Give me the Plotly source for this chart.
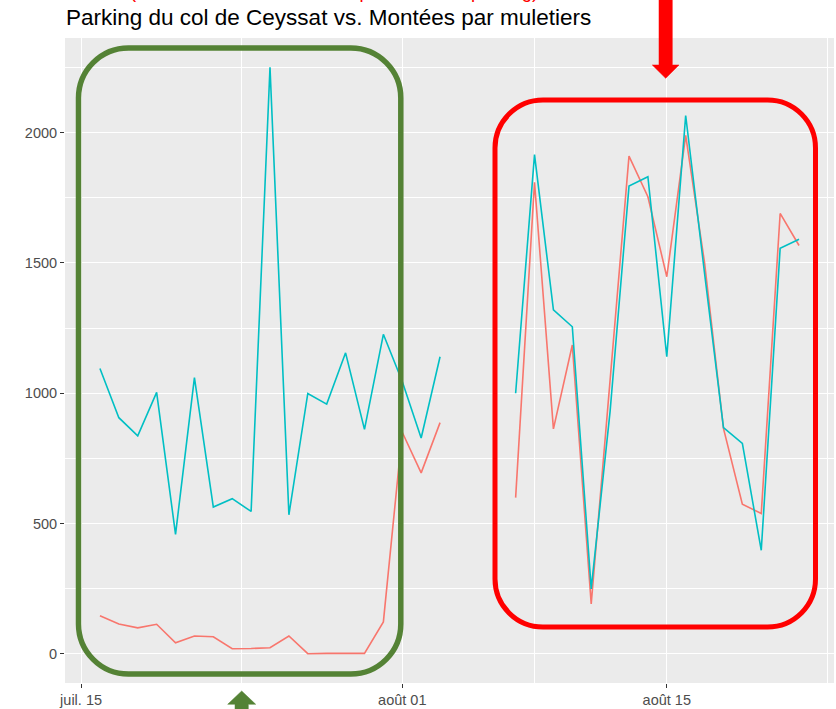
import pandas as pd
import plotly.graph_objects as go

# Daily counts, 16 July – 22 August 2021 (no data 4–6 August)
dates = pd.date_range("2021-07-16", "2021-08-22", freq="D")
montees = [146, 114, 99, 113, 42, 68, 65, 19, 20, 23, 68, 0, 1, 1, 1, 122,
           850, 694, 887, None, None, None, 599, 1810, 863, 1185, 191, 1060,
           1910, 1754, 1447, 1990, 1500, 865, 574, 538, 1690, 1567]
parking = [1095, 906, 836, 1003, 458, 1060, 563, 595, 546, 2251, 533, 999,
           958, 1155, 861, 1226, 1045, 828, 1140, None, None, None, 1000, 1916,
           1320, 1255, 249, 930, 1795, 1831, 1140, 2066, 1460, 868, 807, 397,
           1556, 1591]

x_tickvals = ["2021-07-15", "2021-08-01", "2021-08-15"]
x_ticktext = ["juil. 15", "août 01", "août 15"]
x_minor = ["2021-07-23 12:00", "2021-08-08", "2021-08-23 12:00"]
y_tickvals = [0, 500, 1000, 1500, 2000]
y_minor = [250, 750, 1250, 1750, 2250]

title = "Parking du col de Ceyssat vs. Montées par muletiers"
note = "(Les montées suivent la fréquentation du parking)"

# figure geometry (pixels)
FW, FH = 836, 709
L, R, T, B = 65, 834, 38, 683
PW, PH = R - L, B - T


def paper(px, py):
    return (px - L) / PW, (B - py) / PH


def pt(p):
    return "%.5f,%.5f" % paper(*p)


def rounded_rect(x0, y0, x1, y1, r):
    c = r * (1 - 0.5523)
    segs = [
        "M " + pt((x0 + r, y0)),
        "L " + pt((x1 - r, y0)),
        "C " + " ".join(pt(p) for p in [(x1 - c, y0), (x1, y0 + c), (x1, y0 + r)]),
        "L " + pt((x1, y1 - r)),
        "C " + " ".join(pt(p) for p in [(x1, y1 - c), (x1 - c, y1), (x1 - r, y1)]),
        "L " + pt((x0 + r, y1)),
        "C " + " ".join(pt(p) for p in [(x0 + c, y1), (x0, y1 - c), (x0, y1 - r)]),
        "L " + pt((x0, y0 + r)),
        "C " + " ".join(pt(p) for p in [(x0, y0 + c), (x0 + c, y0), (x0 + r, y0)]),
        "Z",
    ]
    return " ".join(segs)


def polygon(pts):
    segs = ["M " + pt(pts[0])] + ["L " + pt(p) for p in pts[1:]] + ["Z"]
    return " ".join(segs)


# ggplot-like expanded ranges
ymin = min(v for v in montees + parking if v is not None)
ymax = max(v for v in montees + parking if v is not None)
ypad = 0.05 * (ymax - ymin)
xspan = dates[-1] - dates[0]
xrange = [dates[0] - 0.05 * xspan, dates[-1] + 0.05 * xspan]

fig = go.Figure()
fig.add_trace(go.Scatter(x=dates, y=montees, mode="lines", name="Montées par muletiers",
                         line=dict(color="#F8766D", width=1.6), connectgaps=False))
fig.add_trace(go.Scatter(x=dates, y=parking, mode="lines", name="Parking du col de Ceyssat",
                         line=dict(color="#00BFC4", width=1.6), connectgaps=False))

green = "#548235"
red = "#FF0000"
shapes = [
    dict(type="path", xref="paper", yref="paper", layer="above",
         path=rounded_rect(78.5, 48, 400.8, 674, 50),
         line=dict(color=green, width=5.5)),
    dict(type="path", xref="paper", yref="paper", layer="above",
         path=rounded_rect(495, 100, 815.5, 627, 48),
         line=dict(color=red, width=5)),
    dict(type="path", xref="paper", yref="paper", layer="above",
         path=polygon([(659, -5), (672.3, -5), (672.3, 65), (679, 65),
                       (665.7, 78.3), (652.3, 65), (659, 65)]),
         fillcolor=red, line=dict(color=red, width=0.5)),
    dict(type="path", xref="paper", yref="paper", layer="above",
         path=polygon([(241.7, 691), (255.7, 704.3), (248.3, 704.3), (248.3, 715),
                       (235, 715), (235, 704.3), (227.7, 704.3)]),
         fillcolor=green, line=dict(color=green, width=0.5)),
]

nx, ny = paper(128, 4)
fig.add_annotation(text=note, xref="paper", yref="paper", x=nx, y=ny,
                   xanchor="left", yanchor="bottom", showarrow=False,
                   font=dict(family="Liberation Sans, Arial, sans-serif", size=18.6, color=red))

axis_font = dict(family="Liberation Sans, Arial, sans-serif", size=14.5, color="#4D4D4D")
fig.update_layout(
    width=FW, height=FH,
    margin=dict(l=L, r=FW - R, t=T, b=FH - B, pad=0),
    paper_bgcolor="white", plot_bgcolor="#EBEBEB",
    showlegend=False,
    title=dict(text=title, x=66 / FW, xref="container", xanchor="left",
               y=1 - 17 / FH, yref="container", yanchor="middle",
               font=dict(family="Liberation Sans, Arial, sans-serif", size=22.5, color="black")),
    shapes=shapes,
    xaxis=dict(range=xrange, tickvals=x_tickvals, ticktext=x_ticktext,
               showgrid=True, gridcolor="white", gridwidth=1.2, zeroline=False,
               ticks="outside", ticklen=4, tickcolor="#333333", tickwidth=1,
               tickfont=axis_font, showline=False,
               minor=dict(tickvals=x_minor, showgrid=True, gridcolor="white",
                          gridwidth=0.6, ticks="")),
    yaxis=dict(range=[ymin - ypad, ymax + ypad], tickvals=y_tickvals,
               showgrid=True, gridcolor="white", gridwidth=1.2, zeroline=False,
               ticks="outside", ticklen=4, tickcolor="#333333", tickwidth=1,
               tickfont=axis_font, showline=False,
               minor=dict(tickvals=y_minor, showgrid=True, gridcolor="white",
                          gridwidth=0.6, ticks="")),
)

fig.write_html("out.html")
